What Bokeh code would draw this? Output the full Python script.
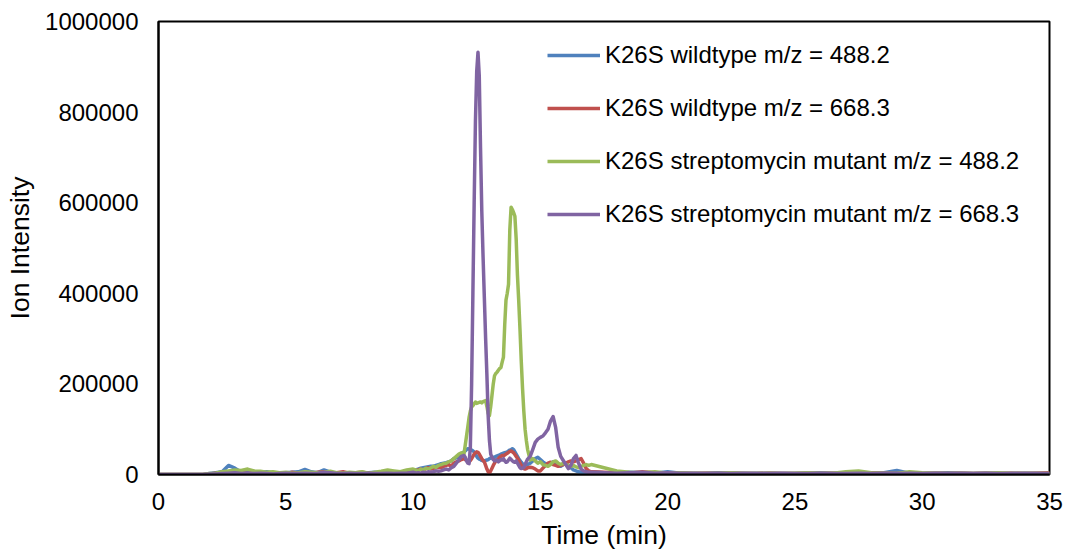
from bokeh.plotting import figure
from bokeh.models import Range1d, Legend, LegendItem, FixedTicker, NumeralTickFormatter
from bokeh.embed import file_html
from bokeh.resources import INLINE

# ---- data (time in min, intensity in thousands of counts) ----
time_min = [
    0, 0.25, 0.5, 0.75, 1, 1.25, 1.5, 1.75, 2, 2.25, 2.5, 2.75, 3, 3.25, 3.5, 3.75, 4, 4.25, 4.5, 4.75,
    5, 5.25, 5.5, 5.75, 6, 6.25, 6.5, 6.75, 7, 7.25, 7.5, 7.75, 8, 8.25, 8.5, 8.75, 9, 9.25, 9.5, 9.75, 10,
    10.1, 10.2, 10.3, 10.4, 10.5, 10.6, 10.7, 10.8, 10.9, 11.0, 11.1, 11.2, 11.3, 11.4, 11.5, 11.6, 11.7, 11.8, 11.9, 12.0,
    12.05, 12.1, 12.15, 12.2, 12.25, 12.3, 12.35, 12.4, 12.45, 12.5,
    12.55, 12.6, 12.65, 12.7, 12.75, 12.8, 12.85, 12.9, 12.95, 13.0,
    13.05, 13.1, 13.15, 13.2, 13.25, 13.3, 13.35, 13.4, 13.45, 13.5,
    13.55, 13.6, 13.65, 13.7, 13.75, 13.8, 13.85, 13.9, 13.95, 14.0,
    14.05, 14.1, 14.15, 14.2, 14.25, 14.3, 14.35, 14.4, 14.45, 14.5,
    14.6, 14.7, 14.8, 14.9, 15.0, 15.1, 15.2, 15.3, 15.4, 15.5, 15.6, 15.7, 15.8, 15.9, 16.0,
    16.1, 16.2, 16.3, 16.4, 16.5, 16.6, 16.7, 16.8, 16.9, 17.0,
    17.5, 18, 18.5, 19, 19.5, 20, 20.5, 21, 21.5, 22, 22.5, 23, 23.5, 24, 24.5, 25, 25.5, 26, 26.5, 27,
    27.5, 28, 28.5, 29, 29.5, 30, 30.5, 31, 31.5, 32, 32.5, 33, 33.5, 34, 34.5, 35,
]

wildtype_488_k = [
    0, 0, 0, 0, 0, 0, 0, 0, 2, 4, 6, 20, 14, 5, 4, 3, 5, 6, 4, 3,
    4, 5, 6, 11, 6, 4, 10, 5, 3, 4, 3, 2, 3, 4, 5, 4, 5, 3, 5, 8, 10,
    10, 12, 14, 15, 16, 17, 18, 18, 20, 22, 24, 25, 26, 28, 30, 35, 37, 40, 45, 50,
    52, 55, 57, 56, 55, 54, 52, 50, 45, 40,
    36, 34, 33, 31, 30, 30, 31, 32, 33, 35,
    36, 37, 38, 38, 40, 41, 42, 43, 45, 46,
    47, 48, 49, 50, 52, 54, 55, 57, 55, 50,
    45, 40, 35, 31, 27, 24, 21, 20, 21, 22,
    25, 30, 35, 38, 33, 28, 24, 22, 25, 28, 24, 20, 18, 22, 25,
    20, 15, 10, 8, 6, 5, 5, 4, 5, 6,
    4, 3, 5, 4, 3, 6, 3, 2, 3, 4, 3, 2, 3, 3, 2, 2, 3, 4, 3, 3,
    2, 3, 4, 9, 3, 2, 3, 4, 3, 2, 3, 2, 3, 2, 3, 2,
]

wildtype_668_k = [
    0, 0, 0, 0, 0, 0, 0, 0, 1, 3, 5, 2, 3, 4, 2, 5, 3, 2, 4, 3,
    2, 5, 3, 4, 2, 5, 6, 3, 4, 6, 3, 4, 5, 3, 4, 3, 5, 6, 4, 7, 9,
    8, 10, 12, 10, 13, 15, 12, 14, 15, 16, 15, 18, 20, 22, 18, 25, 28, 30, 33, 35,
    33, 31, 29, 28, 31, 35, 40, 45, 48, 50,
    49, 45, 40, 35, 31, 28, 20, 12, 6, 3,
    8, 14, 20, 25, 30, 32, 35, 38, 40, 42,
    41, 43, 45, 47, 49, 51, 52, 50, 48, 44,
    40, 36, 32, 26, 20, 15, 13, 12, 13, 15,
    16, 15, 12, 8, 8, 14, 20, 25, 27, 22, 20, 18, 20, 22, 25,
    28, 30, 28, 30, 33, 35, 25, 13, 8, 6,
    5, 4, 3, 6, 4, 3, 3, 2, 3, 2, 3, 2, 2, 3, 2, 2, 3, 2, 3, 2,
    3, 4, 3, 2, 3, 2, 3, 2, 3, 2, 3, 2, 3, 2, 3, 4,
]

mutant_488_k = [
    0, 0, 0, 0, 0, 0, 0, 0, 2, 3, 6, 8, 10, 9, 12, 8, 7, 5, 6, 4,
    5, 3, 4, 6, 5, 4, 5, 7, 4, 3, 5, 4, 6, 3, 5, 7, 10, 8, 6, 10, 12,
    10, 8, 12, 10, 14, 12, 15, 18, 16, 20, 22, 24, 25, 28, 30, 35, 40, 45, 48, 45,
    65, 85, 105, 126, 140, 149, 152, 156, 160, 157,
    158, 159, 160, 158, 161, 162, 163, 150, 135, 130,
    150, 175, 200, 218, 223, 226, 230, 234, 236, 248,
    259, 330, 385, 400, 420, 540, 590, 585, 578, 570,
    520, 440, 384, 320, 250, 190, 140, 100, 75, 55,
    32, 35, 30, 25, 28, 22, 20, 18, 22, 28, 30, 25, 22, 25, 22,
    20, 18, 20, 17, 15, 18, 20, 22, 20, 22,
    15, 8, 5, 4, 6, 3, 4, 3, 2, 3, 4, 3, 2, 3, 2, 3, 4, 3, 3, 6,
    8, 4, 3, 2, 6, 4, 3, 2, 3, 2, 3, 4, 2, 3, 2, 2,
]

mutant_668_k = [
    0, 0, 0, 0, 0, 0, 0, 0, 1, 1, 2, 3, 4, 2, 3, 2, 3, 2, 1, 2,
    3, 2, 2, 3, 2, 3, 5, 4, 2, 2, 3, 2, 2, 3, 2, 2, 3, 2, 3, 3, 5,
    3, 4, 3, 5, 4, 6, 5, 6, 8, 7, 8, 10, 12, 10, 15, 18, 25, 32, 40, 42,
    38, 30, 25, 24, 60, 200, 400, 600, 780, 890,
    932, 880, 720, 580, 480, 390, 300, 220, 130, 75,
    45, 38, 33, 30, 32, 31, 28, 30, 33, 32,
    35, 30, 27, 28, 32, 36, 33, 30, 28, 27,
    30, 25, 20, 15, 13, 14, 16, 22, 28, 34,
    40, 55, 71, 78, 82, 85, 92, 100, 118, 128, 104, 60, 40, 31, 22,
    13, 20, 35, 42, 25, 12, 8, 6, 5, 5,
    4, 3, 4, 5, 3, 4, 3, 3, 2, 3, 2, 3, 2, 2, 3, 2, 2, 3, 2, 2,
    3, 2, 3, 2, 3, 2, 3, 2, 3, 2, 3, 2, 2, 3, 2, 2,
]

series_labels = [
    "K26S wildtype m/z = 488.2",
    "K26S wildtype m/z = 668.3",
    "K26S streptomycin mutant m/z = 488.2",
    "K26S streptomycin mutant m/z = 668.3",
]
series_colors = ["#4F81BD", "#C0504D", "#9BBB59", "#8064A2"]
x_ticks = [0, 5, 10, 15, 20, 25, 30, 35]
y_ticks = [0, 200000, 400000, 600000, 800000, 1000000]
x_title = "Time (min)"
y_title = "Ion Intensity"

FONT = "Liberation Sans"

p = figure(width=1066, height=552, output_backend="svg", toolbar_location=None,
           x_range=Range1d(0, 35), y_range=Range1d(0, 1000000))
p.min_border_left = 158
p.min_border_right = 17
p.min_border_top = 21
p.min_border_bottom = 78
p.outline_line_color = "black"
p.outline_line_width = 2
p.xgrid.visible = False
p.ygrid.visible = False
p.background_fill_color = "white"
p.border_fill_color = "white"

for ax in (p.xaxis[0], p.yaxis[0]):
    ax.axis_line_color = "black"
    ax.axis_line_width = 2
    ax.major_tick_in = 0
    ax.major_tick_out = 0
    ax.minor_tick_in = 0
    ax.minor_tick_out = 0
    ax.major_label_text_font = FONT
    ax.major_label_text_font_size = "24px"
    ax.major_label_text_color = "black"
    ax.major_label_text_line_height = 1.0
    ax.axis_label_text_font = FONT
    ax.axis_label_text_font_size = "26.5px"
    ax.axis_label_text_font_style = "normal"
    ax.axis_label_text_color = "black"
    ax.axis_label_text_line_height = 1.0

p.xaxis[0].ticker = FixedTicker(ticks=x_ticks)
p.yaxis[0].ticker = FixedTicker(ticks=y_ticks)
p.yaxis[0].formatter = NumeralTickFormatter(format="0")
p.xaxis[0].axis_label = x_title
p.yaxis[0].axis_label = y_title
p.xaxis[0].major_label_standoff = 18
p.yaxis[0].major_label_standoff = 20
p.xaxis[0].axis_label_standoff = 7
p.yaxis[0].axis_label_standoff = 7

all_series = [wildtype_488_k, wildtype_668_k, mutant_488_k, mutant_668_k]
items = []
for label, color, vals in zip(series_labels, series_colors, all_series):
    y = [v * 1000 for v in vals]
    r = p.line(time_min, y, line_color=color, line_width=3.5, line_join="round")
    items.append(LegendItem(label=label, renderers=[r]))

legend = Legend(items=items, location=(389, 246))
legend.border_line_color = None
legend.background_fill_alpha = 0
legend.padding = 0
legend.margin = 0
legend.glyph_width = 53
legend.glyph_height = 26
legend.label_height = 26
legend.spacing = 25
legend.label_standoff = 5
legend.label_text_font = FONT
legend.label_text_font_size = "24px"
legend.label_text_color = "black"
p.add_layout(legend)

open("out.html", "w").write(file_html(p, INLINE))
